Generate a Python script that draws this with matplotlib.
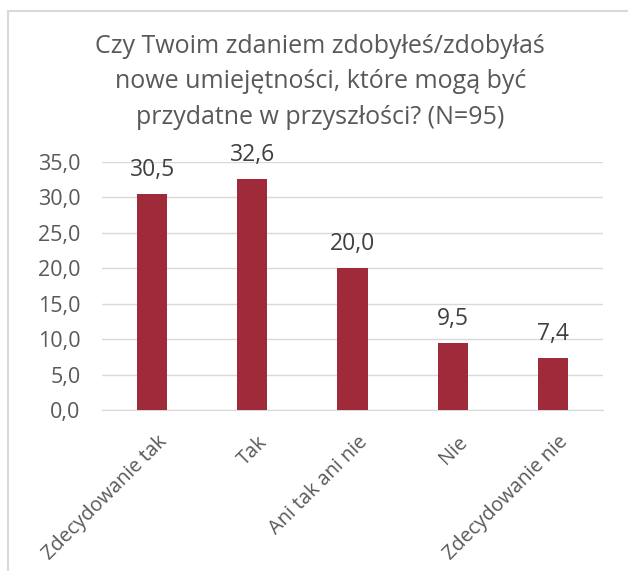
import matplotlib
matplotlib.use("Agg")
import matplotlib.pyplot as plt
from matplotlib.patches import Rectangle
from matplotlib.transforms import ScaledTranslation

categories = ["Zdecydowanie tak", "Tak", "Ani tak ani nie", "Nie", "Zdecydowanie nie"]
values = [30.5, 32.6, 20.0, 9.5, 7.4]
yticks = [0, 5, 10, 15, 20, 25, 30, 35]

title = ("Czy Twoim zdaniem zdobyłeś/zdobyłaś\n"
         "nowe umiejętności, które mogą być\n"
         "przydatne w przyszłości? (N=95)")

plt.rcParams['font.family'] = ['Open Sans', 'DejaVu Sans']

W, H = 628, 571
fig = plt.figure(figsize=(W / 100, H / 100), dpi=100)
fig.patch.set_facecolor("white")

# chart border (light gray), open at right and bottom
fig.add_artist(Rectangle((8 / W, -0.01), 1.0, 1 - 11 / H + 0.01, transform=fig.transFigure,
                         fill=False, edgecolor="#D9D9D9", linewidth=1.5))

ax = fig.add_axes([102 / W, 1 - 410 / H, (603 - 102) / W, (410 - 162) / H])
x = range(len(categories))
bars = ax.bar(x, values, width=0.3, color="#9E2A3A", zorder=3)

ax.set_xlim(-0.5, len(categories) - 0.5)
ax.set_ylim(0, 35)
ax.set_yticks(yticks)
ax.set_yticklabels([f"{v:.1f}".replace(".", ",") for v in yticks], color="#595959", fontsize=15.5)
ax.yaxis.grid(True, color="#D9D9D9", linewidth=1, zorder=0)
ax.set_axisbelow(True)
for s in ["top", "right", "left"]:
    ax.spines[s].set_visible(False)
ax.spines["bottom"].set_color("#D9D9D9")
ax.tick_params(axis="both", length=0)
ax.tick_params(axis="y", pad=15.5)

ax.set_xticks(list(x))
ax.set_xticklabels(categories, rotation=45, ha="right", va="top", rotation_mode="anchor",
                   color="#595959", fontsize=14.3)
ax.tick_params(axis="x", pad=16)
shift = ScaledTranslation(5 / 100, 0, fig.dpi_scale_trans)
for lab in ax.get_xticklabels():
    lab.set_transform(lab.get_transform() + shift)

for b, v in zip(bars, values):
    ax.annotate(f"{v:.1f}".replace(".", ","), (b.get_x() + b.get_width() / 2, v),
                xytext=(0, 13), textcoords="offset points", ha="center", va="baseline",
                fontsize=16.5, color="#404040")

fig.text(0.51, 1 - 82 / H, title, ha="center", va="center", fontsize=18,
         color="#595959", linespacing=1.55)

fig.savefig("out.png", dpi=100)
